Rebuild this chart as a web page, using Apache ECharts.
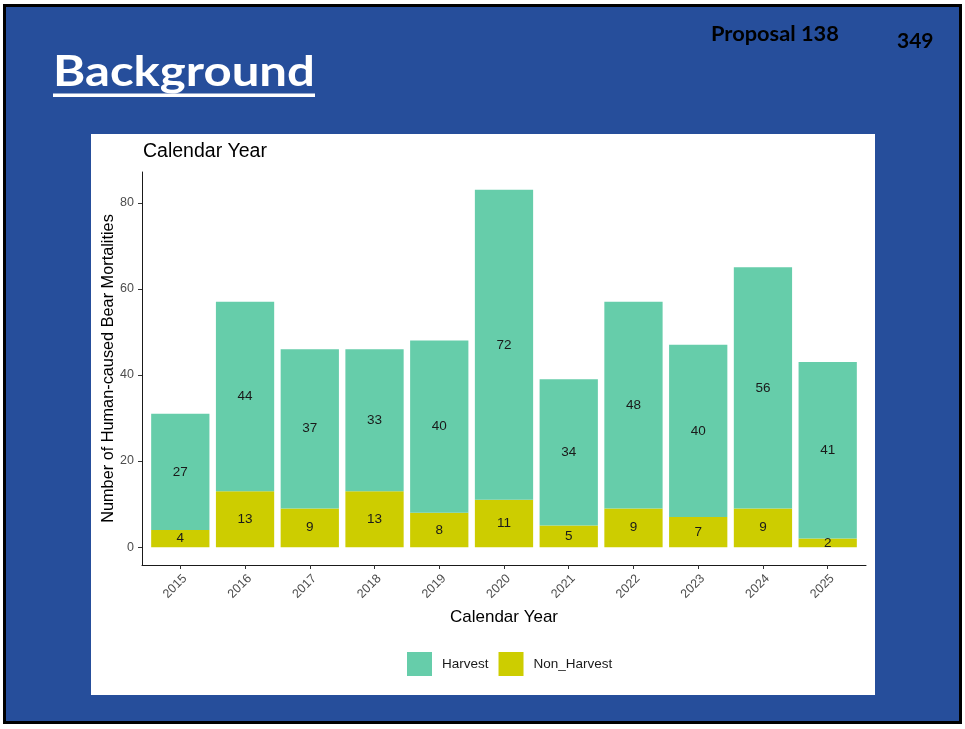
<!DOCTYPE html>
<html>
<head>
<meta charset="utf-8">
<script src="https://cdn.jsdelivr.net/npm/echarts@6/dist/echarts.min.js"></script>
<style>
html,body{margin:0;padding:0;background:#ffffff;}
#chart{width:965px;height:729px;}
</style>
</head>
<body>
<div id="chart"></div>
<script>
// ---- data ----
const years = ['2015','2016','2017','2018','2019','2020','2021','2022','2023','2024','2025'];
const harvest = [27, 44, 37, 33, 40, 72, 34, 48, 40, 56, 41];
const nonHarvest = [4, 13, 9, 13, 8, 11, 5, 9, 7, 9, 2];
const yTicks = [0, 20, 40, 60, 80];
const seriesNames = ['Harvest', 'Non_Harvest'];
const slideTitle = 'Background';
const proposalText = 'Proposal 138';
const pageNumber = '349';
const chartTitle = 'Calendar Year';
const xAxisTitle = 'Calendar Year';
const yAxisTitle = 'Number of Human-caused Bear Mortalities';

// ---- derived axis ranges (ggplot-like expansion) ----
const totals = harvest.map((v, i) => v + nonHarvest[i]);
const maxTotal = Math.max(...totals);
const yMin = -0.05 * maxTotal;
const yMax = 1.05 * maxTotal;

const FONT = 'Liberation Sans, Arial, sans-serif';
const HFONT = 'Lato, Open Sans, sans-serif';
const BLUE = '#264e9b';

// outer panel (axis lines) and inner panel (bars) so the x range has 0.6-band padding
const PL = 142, PR = 99, PT = 172, PB = 164;
const plotW = 965 - PL - PR;
const pad = plotW / (years.length + 1.2) * 0.1;

const chart = echarts.init(document.getElementById('chart'), null, {renderer: 'canvas'});

const labelStyle = {
  show: true,
  position: 'inside',
  color: '#1a1a1a',
  fontSize: 13.5,
  fontFamily: FONT
};

chart.setOption({
  animation: false,
  backgroundColor: '#ffffff',
  graphic: [
    {type: 'rect', z: -20, shape: {x: 4.5, y: 5.5, width: 956, height: 717},
     style: {fill: BLUE, stroke: '#000000', lineWidth: 3}},
    {type: 'rect', z: -19, shape: {x: 91, y: 134, width: 784, height: 561},
     style: {fill: '#ffffff'}},
    {type: 'text', z: 10, x: 53, y: 72, scaleX: 1.17,
     style: {text: slideTitle, fill: '#ffffff', font: 'bold 42px ' + HFONT, verticalAlign: 'middle', align: 'left'}},
    {type: 'rect', z: 10, shape: {x: 53, y: 93.5, width: 262, height: 3.5}, style: {fill: '#ffffff'}},
    {type: 'text', z: 10, x: 711, y: 34.5, scaleX: 1.09,
     style: {text: proposalText, fill: '#000000', font: 'bold 20px ' + HFONT, verticalAlign: 'middle', align: 'left'}},
    {type: 'text', z: 10, x: 897, y: 41,
     style: {text: pageNumber, fill: '#000000', font: 'bold 21px ' + HFONT, verticalAlign: 'middle', align: 'left'}}
  ],
  title: {
    text: chartTitle,
    left: 143,
    top: 142,
    padding: 0,
    textStyle: {fontFamily: FONT, fontSize: 19.5, fontWeight: 'normal', color: '#000000'}
  },
  legend: {
    data: seriesNames,
    left: 407,
    top: 652,
    padding: 0,
    orient: 'horizontal',
    itemWidth: 25,
    itemHeight: 24,
    itemGap: 10,
    icon: 'rect',
    textStyle: {fontFamily: FONT, fontSize: 13.5, color: '#1a1a1a', padding: [0, 0, 0, 5]}
  },
  grid: [
    {left: PL, right: PR, top: PT, bottom: PB, containLabel: false},
    {left: PL + pad, right: PR + pad, top: PT, bottom: PB, containLabel: false}
  ],
  xAxis: [
    {
      gridIndex: 0,
      type: 'value',
      min: 0,
      max: 1,
      axisLine: {show: true, onZero: false, lineStyle: {color: '#1a1a1a', width: 1}},
      axisTick: {show: false},
      axisLabel: {show: false},
      splitLine: {show: false}
    },
    {
      gridIndex: 1,
      type: 'category',
      data: years,
      boundaryGap: true,
      name: xAxisTitle,
      nameLocation: 'middle',
      nameGap: 44,
      nameMoveOverlap: false,
      nameTextStyle: {fontFamily: FONT, fontSize: 17, color: '#000000'},
      axisLine: {show: false, onZero: false},
      axisTick: {show: true, alignWithLabel: true, length: 4, lineStyle: {color: '#333333'}},
      axisLabel: {
        interval: 0,
        rotate: 45,
        margin: 7,
        align: 'right',
        verticalAlign: 'top',
        color: '#4d4d4d',
        fontSize: 12.5,
        fontFamily: FONT
      },
      splitLine: {show: false}
    }
  ],
  yAxis: [
    {
      gridIndex: 0,
      type: 'value',
      min: yMin,
      max: yMax,
      name: yAxisTitle,
      nameLocation: 'middle',
      nameGap: 25,
      nameMoveOverlap: false,
      nameTextStyle: {fontFamily: FONT, fontSize: 16.3, color: '#000000'},
      axisLine: {show: true, onZero: false, lineStyle: {color: '#1a1a1a', width: 1}},
      axisTick: {show: true, length: 4, customValues: yTicks, lineStyle: {color: '#333333'}},
      axisLabel: {customValues: yTicks, color: '#4d4d4d', fontSize: 12.5, fontFamily: FONT, margin: 8},
      splitLine: {show: false}
    },
    {
      gridIndex: 1,
      type: 'value',
      min: yMin,
      max: yMax,
      show: false
    }
  ],
  series: [
    {
      name: 'Non_Harvest',
      type: 'bar',
      xAxisIndex: 1,
      yAxisIndex: 1,
      stack: 'total',
      barCategoryGap: '10%',
      data: nonHarvest,
      itemStyle: {color: '#CDCD00'},
      label: labelStyle
    },
    {
      name: 'Harvest',
      type: 'bar',
      xAxisIndex: 1,
      yAxisIndex: 1,
      stack: 'total',
      barCategoryGap: '10%',
      data: harvest,
      itemStyle: {color: '#66CDAA'},
      label: labelStyle
    }
  ]
});
</script>
</body>
</html>
